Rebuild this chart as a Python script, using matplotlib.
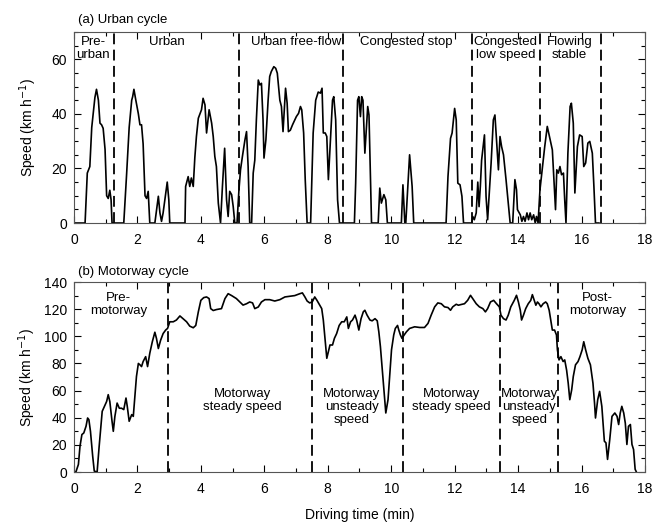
import matplotlib
matplotlib.use("Agg")
import matplotlib.pyplot as plt
from matplotlib.ticker import MultipleLocator

plt.rcParams['font.family'] = ['Liberation Sans', 'DejaVu Sans']
plt.rcParams['font.size'] = 9.5

# --- urban cycle (time in min, speed in km/h)
urban_t = [0, 0.35, 0.42, 0.5, 0.56, 0.63, 0.66, 0.71, 0.77, 0.82, 0.87, 0.92, 0.98, 1.03, 1.08, 1.13, 1.17, 1.2,
           1.57, 1.66, 1.74, 1.82, 1.85, 1.89, 1.95, 2.03, 2.08, 2.13, 2.18, 2.24, 2.29, 2.34, 2.39,
           2.55, 2.66, 2.71, 2.76, 2.81, 2.87, 2.94, 2.99, 3.02,
           3.5, 3.52, 3.6, 3.65, 3.7, 3.76, 3.81, 3.86, 3.92, 3.97, 4.02, 4.07, 4.13, 4.18, 4.26, 4.34, 4.39,
           4.44, 4.49, 4.55, 4.62, 4.68, 4.75, 4.81, 4.86, 4.91, 4.97, 5.02, 5.07, 5.14, 5.2, 5.25, 5.31,
           5.39, 5.44, 5.49, 5.54, 5.6, 5.65, 5.7, 5.75, 5.81, 5.86, 5.91, 5.96, 5.99, 6.05, 6.12, 6.17,
           6.22, 6.3, 6.36, 6.41, 6.49, 6.54, 6.59, 6.67, 6.72, 6.76, 6.82, 6.89, 6.96, 7.01, 7.08, 7.14,
           7.18, 7.24, 7.29, 7.35, 7.46, 7.54, 7.62, 7.7, 7.77, 7.82, 7.86, 7.92, 7.97, 8.02, 8.07, 8.15,
           8.19, 8.25, 8.31, 8.37,
           8.84, 8.88, 8.94, 8.98, 9.03, 9.07, 9.11, 9.17, 9.26, 9.3, 9.38,
           9.59, 9.64, 9.69, 9.77, 9.83, 9.88,
           10.32, 10.37, 10.43, 10.46, 10.58, 10.66, 10.71,
           11.73, 11.79, 11.87, 11.92, 12.0, 12.05, 12.1, 12.17, 12.23, 12.28,
           12.54, 12.57, 12.62, 12.68, 12.73, 12.77, 12.81, 12.85, 12.94, 12.99, 13.04, 13.09, 13.15,
           13.22, 13.27, 13.32, 13.38, 13.43, 13.48, 13.54, 13.62, 13.69, 13.75, 13.83, 13.9, 13.95,
           13.98, 14.07, 14.12, 14.17, 14.22, 14.28, 14.33, 14.38, 14.43, 14.49, 14.54, 14.58, 14.63,
           14.69, 14.77, 14.84, 14.92, 15.01, 15.08, 15.13, 15.18, 15.22, 15.27, 15.32, 15.37, 15.43,
           15.47, 15.51, 15.57, 15.64, 15.68, 15.74, 15.79, 15.87, 15.94, 16.02, 16.07, 16.13, 16.2,
           16.26, 16.34, 16.39, 16.44, 16.55]
urban_v = [0, 0, 18.3, 20.7, 35, 42.7, 46, 49, 45, 36.6, 36, 34.7, 27, 10, 9, 12, 8.5, 0,
           0, 18, 35, 45, 46.3, 49, 45, 40, 36, 36, 29, 10, 9, 11.6, 0,
           0, 9.8, 3.7, 0.6, 3.7, 9, 15, 8.5, 0,
           0, 13.4, 17, 13.4, 16.5, 13.4, 24, 31.7, 38.4, 40, 41.5, 45.7, 43.3, 33, 41.5, 36.6, 31.7,
           24.4, 20.7, 7.3, 0, 13.4, 27.4, 8.5, 2.4, 11.6, 10.4, 6, 0, 0, 12, 19.5, 24.4,
           30.5, 33.5, 20.7, 0, 0, 18.3, 23, 37.8, 52.4, 50.6, 51.2, 37.8, 23.8, 30.5, 45, 53.7,
           55.5, 57.3, 56.7, 54.9, 45, 42.7, 33.5, 49.4, 43.9, 33.5, 34, 36, 37.8, 39, 40.2, 42.7,
           41.5, 33, 15.9, 0, 0, 33, 45, 48, 47.6, 49.4, 33, 33, 31.7, 15.9, 26.8, 45,
           46.3, 37.8, 8.5, 0,
           0, 14.6, 45, 46.3, 39, 46.3, 45, 25.6, 42.7, 39.6, 0,
           0, 12.8, 7.3, 10.4, 8.5, 0,
           0, 14, 0, 0, 25, 13.4, 0,
           0, 17, 31, 33, 42, 37.8, 14.6, 14, 9.8, 0,
           0, 2.4, 1.2, 3.7, 15, 6, 13.4, 23, 32.3, 9.8, 1.2, 10.4, 22,
           37.8, 39.6, 30.5, 19.5, 31.7, 28, 25, 15.9, 7.3, 0, 0, 15.9, 12.2,
           4.9, 3, 0.6, 2.4, 0.6, 3.7, 1.2, 3.7, 1.2, 3, 0, 2.4, 0,
           12.2, 20.7, 28, 35.4, 30.5, 26.8, 15.9, 4.9, 19.5, 18.3, 20.7, 17.7, 18.3,
           8.5, 0, 25.6, 42.7, 43.9, 36.6, 11, 28, 32.3, 31.7, 20.7, 22, 29.3,
           29.9, 25.6, 13.4, 0, 0]

# --- motorway cycle
motor_t = [0, 0.06, 0.14, 0.19, 0.25, 0.31, 0.38, 0.43, 0.47, 0.52, 0.59, 0.64, 0.73, 0.79, 0.85, 0.89,
           0.96, 1.03, 1.08, 1.13, 1.2, 1.24, 1.29, 1.36, 1.43, 1.5, 1.57, 1.64, 1.68, 1.74, 1.82, 1.87,
           1.92, 1.97, 2.03, 2.08, 2.13, 2.18, 2.26, 2.32, 2.39, 2.47, 2.55, 2.6, 2.66, 2.73, 2.81, 2.89,
           2.95, 3.02, 3.13, 3.23, 3.34, 3.44, 3.55, 3.65, 3.76, 3.84, 3.92, 4.0, 4.09, 4.18, 4.26, 4.31,
           4.39, 4.49, 4.65, 4.76, 4.86, 4.97, 5.12, 5.23, 5.33, 5.44, 5.54, 5.63, 5.7, 5.81, 5.91, 6.02,
           6.17, 6.33, 6.49, 6.65, 6.8, 6.96, 7.12, 7.2, 7.28, 7.35, 7.43, 7.51, 7.59, 7.66, 7.75, 7.81,
           7.86, 7.92, 7.97, 8.02, 8.07, 8.15, 8.21, 8.28, 8.36, 8.44, 8.52, 8.6, 8.65, 8.72, 8.78, 8.86,
           8.91, 8.98, 9.05, 9.12, 9.17, 9.24, 9.33, 9.4, 9.49, 9.56, 9.61, 9.66, 9.72, 9.77, 9.83, 9.9,
           9.96, 10.01, 10.08, 10.13, 10.2, 10.24, 10.29, 10.34, 10.41, 10.48, 10.58, 10.74, 10.9, 11.05,
           11.16, 11.26, 11.37, 11.47, 11.58, 11.68, 11.79, 11.87, 11.94, 12.05, 12.12, 12.2, 12.31,
           12.41, 12.5, 12.57, 12.68, 12.78, 12.89, 12.97, 13.04, 13.13, 13.23, 13.32, 13.41, 13.46,
           13.54, 13.62, 13.69, 13.77, 13.88, 13.95, 14.01, 14.07, 14.11, 14.17, 14.24, 14.32, 14.4,
           14.45, 14.51, 14.56, 14.61, 14.66, 14.72, 14.79, 14.87, 14.92, 14.98, 15.03, 15.08, 15.15,
           15.21, 15.24, 15.29, 15.35, 15.42, 15.47, 15.53, 15.58, 15.63, 15.69, 15.74, 15.81, 15.89,
           15.95, 16.02, 16.07, 16.13, 16.2, 16.28, 16.36, 16.41, 16.44, 16.51, 16.57, 16.64, 16.72,
           16.77, 16.82, 16.89, 16.96, 17.05, 17.12, 17.17, 17.22, 17.27, 17.33, 17.38, 17.43, 17.48,
           17.54, 17.59, 17.64, 17.69, 17.73]
motor_v = [0, 0, 5.6, 19, 27.6, 28.8, 33.7, 39.8, 38.6, 30, 11.7, 0.7, 0, 17.8, 33.7, 44.7,
           48.4, 52, 57, 52, 37.4, 30, 41, 50.8, 47, 47, 46, 54.5, 48.4, 37.4, 42.3, 41,
           55.7, 70.4, 80, 79, 77.7, 81.4, 85, 77.7, 87.5, 96, 103, 98.5, 91, 97, 102, 104.6,
           105.8, 110.7, 110.7, 112, 115, 113, 110.7, 107.5, 106.3, 108, 118, 126.5, 128.5, 129, 127.8, 120.4,
           119, 119.7, 120.4, 127.8, 131.4, 130, 127.8, 125.3, 123, 124, 125.3, 124.6, 120.4, 121.6, 125.3, 127,
           127, 126, 127, 129, 129.5, 130, 131.4, 132, 129, 126, 124.6, 125.3, 129, 126.5, 122.9, 120.4,
           112, 97, 83.8, 88.7, 93.6, 93.6, 98.5, 102, 108, 110.7, 110.7, 114.3, 105.8, 110.7, 112, 115.6,
           112, 104.6, 113, 118, 119.2, 115.6, 112, 111.4, 113, 111.4, 103.3, 92.4, 75, 60.6, 43.5, 53.3,
           72.8, 90, 101, 105.8, 108, 104.6, 101, 98.5, 101, 103.3, 105.8, 107, 106.5, 106.5,
           109.5, 115.6, 121.7, 124.6, 124, 121.7, 121.2, 119.2, 121.7, 123.6, 122.9, 123.4, 124,
           126.5, 130.2, 127.8, 124, 121.7, 120.4, 118, 120.4, 125.3, 126.5, 124, 121.7, 115.6,
           113, 112, 115.6, 121.7, 126.5, 130.2, 125.3, 119.2, 112, 115.6, 120.4, 124, 126.5,
           130.7, 126.5, 122.9, 125.3, 124, 121.7, 124, 125.3, 124, 119.2, 112, 104.6, 104.6,
           101, 90, 82.6, 85, 81.4, 82.6, 75, 65.5, 53.3, 60.6, 70.4, 79, 81.4,
           85, 90, 96, 90, 83.8, 79, 65.5, 50.8, 39.8, 53.3, 59.4, 48.4, 22.7,
           21.5, 9.3, 24, 41, 43.5, 41, 35, 43.5, 48.4, 43.5, 36, 20.3, 33.7,
           35, 20.3, 16.6, 2, 0]

urban_bounds = [1.25, 5.2, 8.48, 12.55, 14.7, 16.62]
urban_labels = ["Pre-\nurban", "Urban", "Urban free-flow", "Congested stop", "Congested\nlow speed", "Flowing\nstable"]
urban_label_x = [0.6, 2.94, 7.0, 10.48, 13.6, 15.62]

motor_bounds = [2.96, 7.5, 10.37, 13.43, 15.27]
motor_labels = ["Pre-\nmotorway", "Motorway\nsteady speed", "Motorway\nunsteady\nspeed",
                "Motorway\nsteady speed", "Motorway\nunsteady\nspeed", "Post-\nmotorway"]
motor_label_x = [1.4, 5.31, 8.75, 11.89, 14.35, 16.5]
motor_label_y = [132.5, 62, 62, 62, 62, 132.5]

fig = plt.figure(figsize=(6.54, 5.24), dpi=100)
ax1 = fig.add_axes([0.1131, 0.5744, 0.8731, 0.3645])
ax2 = fig.add_axes([0.1131, 0.0992, 0.8731, 0.3626])


def style(ax, ymax, ymaj, ymin):
    ax.set_xlim(0, 18)
    ax.set_ylim(0, ymax)
    ax.xaxis.set_major_locator(MultipleLocator(2))
    ax.xaxis.set_minor_locator(MultipleLocator(1))
    ax.yaxis.set_major_locator(MultipleLocator(ymaj))
    ax.yaxis.set_minor_locator(MultipleLocator(ymin))
    ax.tick_params(which='both', direction='in', top=True, right=True, labelsize=10, width=0.8)
    ax.tick_params(which='major', length=5)
    ax.tick_params(which='minor', length=3)
    ax.tick_params(axis='x', which='major', pad=7)
    ax.tick_params(axis='y', which='major', pad=5)
    for s in ax.spines.values():
        s.set_color('#555555')
        s.set_linewidth(0.8)


ax1.plot(urban_t, urban_v, color='black', lw=1.2)
for b in urban_bounds:
    ax1.axvline(b, color='black', lw=1.3, ls=(0, (6, 3)))
for x, s in zip(urban_label_x, urban_labels):
    ax1.text(x, 68.5, s, ha='center', va='top', linespacing=1.1)
style(ax1, 70, 20, 5)
ax1.set_ylabel('Speed (km h$^{-1}$)', fontsize=10, labelpad=9)
ax1.text(0.007, 1.03, '(a) Urban cycle', transform=ax1.transAxes, va='bottom')

ax2.plot(motor_t, motor_v, color='black', lw=1.2)
for b in motor_bounds:
    ax2.axvline(b, color='black', lw=1.3, ls=(0, (6, 3)))
for x, y, s in zip(motor_label_x, motor_label_y, motor_labels):
    ax2.text(x, y, s, ha='center', va='top', linespacing=1.1)
style(ax2, 140, 20, 10)
ax2.set_ylabel('Speed (km h$^{-1}$)', fontsize=10, labelpad=4)
ax2.set_xlabel('Driving time (min)', fontsize=10, labelpad=9)
ax2.text(0.007, 1.02, '(b) Motorway cycle', transform=ax2.transAxes, va='bottom')

fig.savefig('out.png', dpi=100)
